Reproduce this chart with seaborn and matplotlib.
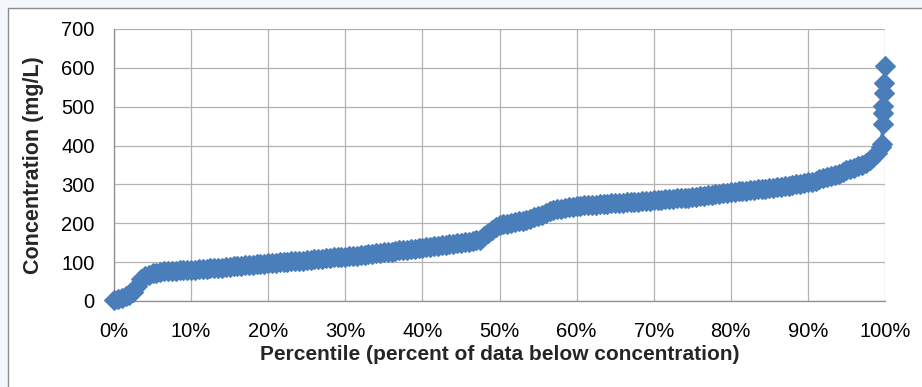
import numpy as np
import pandas as pd
import matplotlib
matplotlib.use('Agg')
import matplotlib.pyplot as plt
import seaborn as sns
from matplotlib.ticker import PercentFormatter, MultipleLocator
from matplotlib.patches import Rectangle

# percentile grid (percent of data below concentration)
pct = np.arange(0, 100, 0.5)

# concentration at each 0.5 % step
conc = [
    3, 6, 9, 12, 16, 24, 38, 56, 64, 68,
    71, 73, 75, 76, 77, 77.5, 78, 78.5, 79, 79.5,
    80, 81, 81.5, 82, 83, 84, 84.5, 85, 86, 87,
    88, 89, 90, 91, 92, 93, 93.5, 94, 95, 96,
    97, 98, 99, 100, 100.5, 101, 102, 103, 103.5, 104,
    105, 106, 107, 108, 109, 110, 111, 112, 112.5, 113,
    114, 115, 116, 117, 118, 119, 120, 121, 122.5, 124,
    125, 126, 127, 128.5, 130, 131, 132, 133.5, 135, 136,
    137, 138, 139.5, 141, 142, 143.5, 145, 146, 147.5, 149,
    150, 151.5, 153, 154.5, 156, 158, 166, 176, 184, 190,
    195, 197, 199, 201, 203, 205, 207, 209.5, 212, 215,
    218, 222, 227, 231, 234, 236.5, 238, 239.5, 241, 242.5,
    244, 245, 246, 246.5, 247, 248, 249, 249.5, 250, 251,
    252, 252.5, 253, 254, 254.5, 255.5, 256, 257, 257.5, 258,
    259, 260, 261, 261.5, 262, 263, 264, 265, 265.5, 266,
    267, 268, 269.5, 271, 272, 273.5, 275, 276, 277.5, 279,
    280, 281, 282, 283, 284, 285, 286, 287, 288, 289,
    290, 291.5, 292.5, 294, 295, 296.5, 298, 300, 301.5, 303,
    305, 307.5, 310, 313, 316, 319, 322, 325, 328, 332,
    336, 339, 343, 347, 351, 356, 362, 370, 382, 396,
]

# highest values, all squeezed near 100 %
tail_pct = [99.6, 99.7, 99.75, 99.8, 99.85, 99.9, 100]
tail_conc = [405, 456, 485, 503, 536, 561, 605]

y_ticks = [0, 100, 200, 300, 400, 500, 600, 700]

df = pd.DataFrame({'pct': list(pct) + tail_pct, 'conc': conc + tail_conc})

sns.set_style('white')
plt.rcParams['font.family'] = ['Liberation Sans', 'DejaVu Sans']

fig = plt.figure(figsize=(9.22, 3.87), dpi=100)
fig.patch.set_facecolor('#F3F7FC')
# white chart box with grey border
box = Rectangle((8 / 922, -0.1), 1.2, 1.1 - 8 / 387,
                transform=fig.transFigure, facecolor='white',
                edgecolor='#8C8C8C', linewidth=1.0, zorder=-5)
fig.add_artist(box)

ax = fig.add_axes([114 / 922, 1 - 301 / 387, (885 - 114) / 922, (301 - 29) / 387])
ax.set_facecolor('none')

blue = '#4A7EBB'
sns.lineplot(data=df, x='pct', y='conc', ax=ax, color=blue, linewidth=2.6,
             marker='D', markersize=10, markeredgecolor=blue,
             markerfacecolor=blue, markeredgewidth=0.8, estimator=None,
             sort=False, clip_on=False, zorder=3)

ax.set_xlim(0, 100)
ax.set_ylim(0, 700)
ax.xaxis.set_major_locator(MultipleLocator(10))
ax.xaxis.set_major_formatter(PercentFormatter(xmax=100, decimals=0))
ax.set_yticks(y_ticks)

ax.grid(True, color='#B3B3B3', linewidth=0.9)
ax.set_axisbelow(True)
for s in ['top', 'right']:
    ax.spines[s].set_visible(False)
for s in ['left', 'bottom']:
    ax.spines[s].set_color('#8C8C8C')
    ax.spines[s].set_linewidth(0.9)

ax.tick_params(axis='both', direction='out', length=4, width=0.9,
               color='#8C8C8C', labelsize=14.5, labelcolor='black')
ax.tick_params(axis='x', pad=11)
ax.tick_params(axis='y', pad=10)

ax.set_xlabel('Percentile (percent of data below concentration)',
              fontsize=15, fontweight='bold', labelpad=3)
ax.set_ylabel('Concentration (mg/L)', fontsize=15.5, fontweight='bold',
              labelpad=12)

fig.savefig('out.png', dpi=100, facecolor=fig.get_facecolor())
